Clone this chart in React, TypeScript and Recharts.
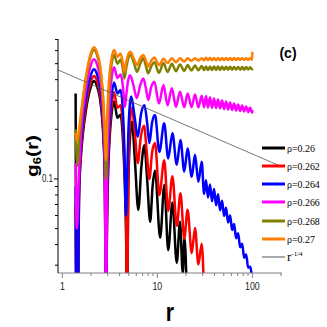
import React from 'react';
import { LineChart, Line, XAxis, YAxis, Legend } from 'recharts';

// [r, g6(r)]
const black: [number, number][] = [
  [1.38, 0.33], [1.41, 0.012], [1.45, 0.012], [1.5, 0.079], [1.57, 0.138], [1.66, 0.197], [1.75, 0.248],
  [1.85, 0.303], [1.97, 0.354], [2.15, 0.393], [2.32, 0.365], [2.49, 0.307], [2.62, 0.236], [2.72, 0.165],
  [2.8, 0.098], [2.88, 0.012], [2.95, 0.05], [3.05, 0.12], [3.15, 0.18], [3.3, 0.25], [3.5, 0.295],
  [3.8, 0.235], [4.1, 0.245], [4.35, 0.17], [4.55, 0.09], [4.7, 0.04], [4.8, 0.012], [4.9, 0.06],
  [5.05, 0.14], [5.4, 0.222], [5.8, 0.13], [6.3, 0.065], [6.8, 0.12], [7.3, 0.16], [7.8, 0.1],
  [8.4, 0.055], [8.9, 0.09], [9.45, 0.112], [10.7, 0.044], [11.85, 0.092], [13.0, 0.037], [14.4, 0.072],
  [16.0, 0.031], [17.3, 0.055], [18.5, 0.027], [19.3, 0.044], [20.4, 0.02],
];

const red: [number, number][] = [
  [1.38, 0.07], [1.41, 0.012], [1.45, 0.012], [1.5, 0.084], [1.57, 0.147], [1.66, 0.21], [1.75, 0.265],
  [1.85, 0.324], [1.97, 0.379], [2.15, 0.421], [2.32, 0.392], [2.49, 0.328], [2.62, 0.253], [2.72, 0.177],
  [2.8, 0.105], [2.88, 0.012], [2.95, 0.06], [3.05, 0.14], [3.15, 0.2], [3.3, 0.28], [3.5, 0.335],
  [3.8, 0.27], [4.1, 0.28], [4.35, 0.2], [4.55, 0.11], [4.7, 0.05], [4.8, 0.015], [4.95, 0.1],
  [5.1, 0.2], [5.4, 0.27], [5.8, 0.19], [6.22, 0.125], [6.7, 0.18], [7.24, 0.21], [7.7, 0.15],
  [8.24, 0.1], [8.8, 0.145], [9.45, 0.165], [10.5, 0.08], [11.8, 0.13], [13.0, 0.064], [14.4, 0.104],
  [16.0, 0.052], [17.5, 0.082], [19.2, 0.0435], [20.8, 0.065], [23.0, 0.0355], [24.9, 0.0505],
  [27.0, 0.0303], [29.3, 0.0405], [31.0, 0.02],
];

const blue: [number, number][] = [
  [1.38, 0.09], [1.41, 0.012], [1.45, 0.012], [1.5, 0.093], [1.57, 0.162], [1.66, 0.232], [1.75, 0.292],
  [1.85, 0.357], [1.97, 0.417], [2.15, 0.463], [2.32, 0.431], [2.49, 0.361], [2.62, 0.278], [2.72, 0.194],
  [2.8, 0.116], [2.88, 0.012], [2.95, 0.07], [3.05, 0.16], [3.15, 0.23], [3.3, 0.32], [3.5, 0.385],
  [3.8, 0.33], [4.1, 0.346], [4.35, 0.25], [4.5, 0.15], [4.6, 0.08], [4.68, 0.06], [4.8, 0.1],
  [4.95, 0.19], [5.1, 0.27], [5.3, 0.316], [5.75, 0.24], [6.22, 0.18], [6.75, 0.25], [7.31, 0.28],
  [7.8, 0.22], [8.24, 0.165], [8.8, 0.22], [9.45, 0.244], [10.5, 0.146], [11.8, 0.218], [13.0, 0.133],
  [14.4, 0.189], [16.0, 0.122], [17.5, 0.172], [19.2, 0.111], [20.8, 0.153], [23.0, 0.103], [24.9, 0.14],
  [27.0, 0.096], [29.3, 0.127], [31.0, 0.0812], [32.5, 0.0981], [34.1, 0.0772], [35.8, 0.0925],
  [37.6, 0.0732], [39.5, 0.087], [41.5, 0.0693], [43.5, 0.0807], [45.7, 0.0645], [48.0, 0.0737],
  [50.4, 0.0597], [52.9, 0.067], [55.5, 0.0545], [58.3, 0.06], [61.2, 0.049], [64.2, 0.0534],
  [67.4, 0.0437], [70.8, 0.0468], [74.3, 0.0385], [78.0, 0.0405], [81.9, 0.0333], [86.0, 0.0348],
  [90.3, 0.029], [94.8, 0.0294], [99.5, 0.024],
];

const magenta: [number, number][] = [
  [1.38, 0.125], [1.42, 0.05], [1.5, 0.11], [1.57, 0.186], [1.66, 0.266], [1.75, 0.335], [1.85, 0.409],
  [1.97, 0.478], [2.15, 0.531], [2.32, 0.494], [2.49, 0.414], [2.62, 0.319], [2.72, 0.223], [2.8, 0.133],
  [2.88, 0.012], [2.95, 0.09], [3.05, 0.2], [3.15, 0.3], [3.3, 0.41], [3.5, 0.475], [3.8, 0.41],
  [4.1, 0.43], [4.3, 0.38], [4.45, 0.31], [4.55, 0.274], [4.7, 0.32], [4.9, 0.39], [5.16, 0.426],
  [5.6, 0.37], [6.07, 0.309], [6.6, 0.37], [7.13, 0.407], [7.6, 0.35], [8.03, 0.301], [8.6, 0.36],
  [9.3, 0.389], [10.4, 0.287], [11.6, 0.371], [12.8, 0.28], [14.2, 0.355], [15.7, 0.274], [17.3, 0.338],
  [19.2, 0.272], [20.8, 0.33], [22.9, 0.272], [24.9, 0.325], [27.0, 0.272], [29.3, 0.32], [31.0, 0.272],
  [32.5, 0.318], [34.1, 0.271], [35.8, 0.313], [37.6, 0.27], [39.5, 0.308], [41.5, 0.269], [43.5, 0.303],
  [45.7, 0.268], [48.0, 0.299], [50.4, 0.266], [52.9, 0.295], [55.5, 0.264], [58.3, 0.291], [61.2, 0.262],
  [64.2, 0.287], [67.4, 0.26], [70.8, 0.283], [74.3, 0.258], [78.0, 0.279], [81.9, 0.256], [86.0, 0.275],
  [90.3, 0.254], [94.8, 0.271], [99.5, 0.252], [100, 0.262],
];

const olive: [number, number][] = [
  [1.38, 0.2], [1.44, 0.12], [1.5, 0.17], [1.57, 0.23], [1.66, 0.31], [1.75, 0.385], [1.85, 0.466],
  [1.97, 0.545], [2.15, 0.605], [2.32, 0.563], [2.49, 0.472], [2.62, 0.363], [2.72, 0.26], [2.8, 0.17],
  [2.88, 0.1], [2.95, 0.18], [3.05, 0.3], [3.15, 0.4], [3.3, 0.5], [3.5, 0.565], [3.8, 0.5], [4.1, 0.53],
  [4.35, 0.46], [4.5, 0.407], [4.7, 0.47], [4.95, 0.54], [5.2, 0.564], [5.7, 0.5], [6.1, 0.446],
  [6.6, 0.5], [7.1, 0.54], [7.6, 0.48], [8.0, 0.437], [8.6, 0.48], [9.3, 0.51], [10.4, 0.44],
  [11.6, 0.505], [12.8, 0.445], [14.2, 0.5], [15.7, 0.45], [17.3, 0.495], [19.2, 0.452], [20.8, 0.49],
  [22.9, 0.454], [24.9, 0.487], [27.0, 0.456], [29.3, 0.484], [31.0, 0.457], [32.5, 0.481], [34.1, 0.457],
  [35.8, 0.481], [37.6, 0.458], [39.5, 0.48], [41.5, 0.458], [43.5, 0.48], [45.7, 0.458], [48.0, 0.479],
  [50.4, 0.459], [52.9, 0.479], [55.5, 0.459], [58.3, 0.479], [61.2, 0.459], [64.2, 0.478], [67.4, 0.46],
  [70.8, 0.478], [74.3, 0.46], [78.0, 0.477], [81.9, 0.46], [86.0, 0.477], [90.3, 0.461], [94.8, 0.476],
  [99.5, 0.461], [100, 0.468],
];

const orange: [number, number][] = [
  [1.38, 0.19], [1.42, 0.17], [1.5, 0.2], [1.57, 0.25], [1.66, 0.32], [1.75, 0.4], [1.85, 0.483],
  [1.97, 0.565], [2.15, 0.628], [2.32, 0.584], [2.49, 0.49], [2.62, 0.377], [2.72, 0.28], [2.8, 0.19],
  [2.88, 0.13], [2.95, 0.22], [3.05, 0.34], [3.15, 0.44], [3.3, 0.54], [3.5, 0.605], [3.8, 0.55],
  [4.1, 0.577], [4.35, 0.5], [4.5, 0.446], [4.7, 0.51], [4.95, 0.57], [5.2, 0.59], [5.7, 0.53],
  [6.1, 0.49], [6.6, 0.54], [7.1, 0.564], [7.6, 0.52], [8.0, 0.48], [8.6, 0.52], [9.3, 0.545],
  [10.4, 0.49], [11.6, 0.535], [12.8, 0.505], [14.2, 0.54], [15.7, 0.51], [17.3, 0.54], [19.2, 0.515],
  [20.8, 0.54], [22.9, 0.52], [24.9, 0.54], [27.0, 0.522], [29.3, 0.54], [31.0, 0.524], [32.5, 0.543],
  [34.1, 0.524], [35.8, 0.543], [37.6, 0.525], [39.5, 0.542], [41.5, 0.525], [43.5, 0.542], [45.7, 0.525],
  [48.0, 0.542], [50.4, 0.526], [52.9, 0.541], [55.5, 0.526], [58.3, 0.541], [61.2, 0.526], [64.2, 0.541],
  [67.4, 0.527], [70.8, 0.54], [74.3, 0.527], [78.0, 0.54], [81.9, 0.527], [86.0, 0.54], [90.3, 0.528],
  [94.8, 0.54], [99.5, 0.528], [100, 0.59],
];

// r^-1/4 guide line, its two end points
const powerLaw: [number, number][] = [[0.9, 0.458], [205, 0.1185]];

const seriesNames = ['ρ=0.26', 'ρ=0.262', 'ρ=0.264', 'ρ=0.266', 'ρ=0.268', 'ρ=0.27'];
const seriesColors = ['#000000', '#ff0000', '#0000ff', '#ff00ff', '#808000', '#ff8000'];
const seriesData = [black, red, blue, magenta, olive, orange];

const xTicks = [1, 2, 3, 4, 5, 6, 7, 8, 9, 10, 20, 30, 40, 50, 60, 70, 80, 90, 100, 200];
const xTickLabels = [1, 10, 100];
const yTicks = [0.03, 0.04, 0.05, 0.06, 0.07, 0.08, 0.09, 0.1, 0.2, 0.3, 0.4, 0.5, 0.6, 0.7];
const yTickLabels = [0.1];

const toRows = (pts: [number, number][]) => pts.map(([r, g]) => ({ r, g }));

const SANS = '"Liberation Sans", Arial, sans-serif';
const SERIF = '"Liberation Serif", "Times New Roman", serif';

function XTick(props: any) {
  const { x, y, payload } = props;
  const v = payload.value;
  const major = xTickLabels.includes(v);
  return (
    <g>
      <line x1={x} x2={x} y1={y} y2={y + (major ? 5 : 3)} stroke="#808080" strokeWidth={1} />
      {major && (
        <text transform={`translate(${x},${y + 17}) scale(0.8,1)`} textAnchor="middle" fontSize={11} fontFamily={SANS} fill="#222">
          {v}
        </text>
      )}
    </g>
  );
}

function YTick(props: any) {
  const { x, y, payload } = props;
  const v = payload.value;
  const major = yTickLabels.includes(v);
  return (
    <g>
      <line x1={x - (major ? 4 : 3)} x2={x} y1={y} y2={y} stroke="#000" strokeWidth={1} />
      {major && (
        <text transform={`translate(${x - 5},${y + 3.5}) scale(0.8,1)`} textAnchor="end" fontSize={10} fontFamily={SANS} fill="#222">
          {v}
        </text>
      )}
    </g>
  );
}

const renderYLabel = () => (
  <text transform="translate(38,156) scale(0.8,1) rotate(-90)" textAnchor="middle" fontSize={21} fontWeight="bold" fontFamily={SANS} fill="#000">
    g<tspan fontSize={13} dy={4}>6</tspan><tspan dy={-4}>(r)</tspan>
  </text>
);

const renderXLabel = () => (
  <g>
    <text transform="translate(170,321) scale(0.85,1)" textAnchor="middle" fontSize={25} fontWeight="bold" fontFamily={SANS} fill="#000">r</text>
    <text x={288} y={58} textAnchor="middle" fontSize={14} fontWeight="bold" fontFamily={SANS} fill="#000">(c)</text>
  </g>
);

const renderLegend = () => {
  const rows = seriesNames.map((n, i) => ({ name: n, color: seriesColors[i], w: 3 }));
  return (
    <div style={{ position: 'relative', width: 65, height: 130 }}>
      {rows.map((row, i) => (
        <div key={row.name} style={{ position: 'absolute', left: 0, top: i * 18.3, height: 12, display: 'flex', alignItems: 'center', whiteSpace: 'nowrap' }}>
          <svg width={23} height={12}><line x1={0} x2={23} y1={6} y2={6} stroke={row.color} strokeWidth={row.w} /></svg>
          <span style={{ fontFamily: SERIF, fontSize: 11, marginLeft: 2, color: '#000', lineHeight: '12px', display: 'inline-block', transform: 'scaleX(0.9)', transformOrigin: 'left center' }}>{row.name}</span>
        </div>
      ))}
      <div style={{ position: 'absolute', left: 0, top: 6 * 18.3, height: 12, display: 'flex', alignItems: 'center', whiteSpace: 'nowrap' }}>
        <svg width={23} height={12}><line x1={0} x2={23} y1={6} y2={6} stroke="#555" strokeWidth={1} /></svg>
        <span style={{ fontFamily: SERIF, fontSize: 13, marginLeft: 2, color: '#000', lineHeight: '12px' }}>
          r<sup style={{ fontSize: 7, verticalAlign: 'top', position: 'relative', top: -3 }}>-1/4</sup>
        </span>
      </div>
    </div>
  );
};

export default function App() {
  return (
    <div style={{ position: 'absolute', left: 0, top: 0, width: 327, height: 327, background: '#fff' }}>
      <LineChart width={327} height={327} margin={{ top: 39, right: 45, bottom: 0, left: 0 }}>
        <XAxis
          dataKey="r"
          type="number"
          scale="log"
          domain={[0.9, 205]}
          allowDataOverflow
          ticks={xTicks}
          interval={0}
          height={54}
          tickLine={false}
          tickSize={0}
          tickMargin={0}
          tick={<XTick />}
          axisLine={{ stroke: '#808080', strokeWidth: 1 }}
          label={renderXLabel}
        />
        <YAxis
          type="number"
          scale="log"
          domain={[0.0269, 0.7056]}
          allowDataOverflow
          ticks={yTicks}
          interval={0}
          width={58}
          tickLine={false}
          tickSize={0}
          tickMargin={0}
          tick={<YTick />}
          axisLine={{ stroke: '#000', strokeWidth: 1 }}
          label={renderYLabel}
        />
        {seriesData.map((d, i) => (
          <Line
            key={seriesNames[i]}
            data={toRows(d)}
            dataKey="g"
            name={seriesNames[i]}
            type="monotone"
            stroke={seriesColors[i]}
            strokeWidth={2.5}
            dot={false}
            activeDot={false}
            isAnimationActive={false}
          />
        ))}
        <Line
          data={toRows(powerLaw)}
          dataKey="g"
          name="r^-1/4"
          type="linear"
          stroke="#555"
          strokeWidth={0.8}
          dot={false}
          activeDot={false}
          isAnimationActive={false}
        />
        <Legend
          layout="vertical"
          align="center"
          verticalAlign="middle"
          content={renderLegend}
          wrapperStyle={{ position: 'absolute', left: 262, top: 141.5, width: 65, height: 130 }}
        />
      </LineChart>
    </div>
  );
}
